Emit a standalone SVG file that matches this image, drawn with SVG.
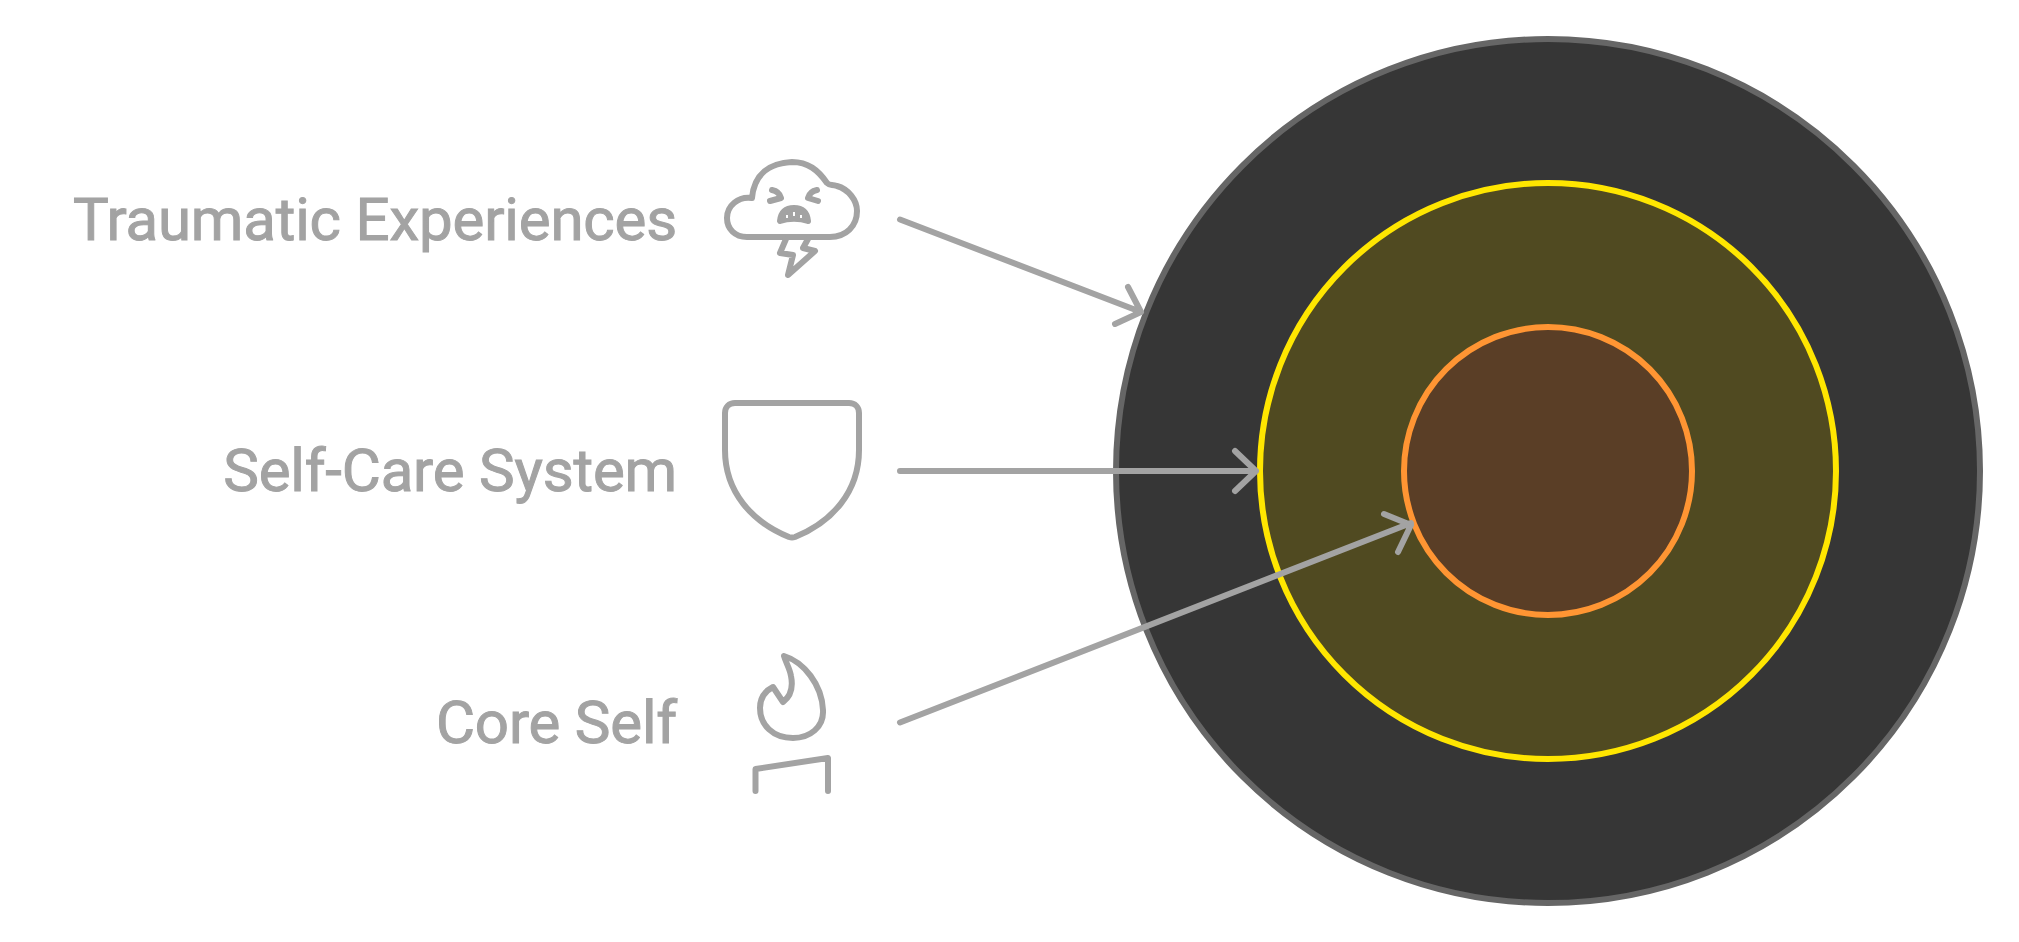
<svg xmlns="http://www.w3.org/2000/svg" width="2019" height="942" viewBox="0 0 2019 942">
<style>
.t{font-family:Roboto,"Liberation Sans",sans-serif;font-size:60px;letter-spacing:-.18px;fill:#a3a3a3;stroke:#a3a3a3;stroke-width:1;text-anchor:end}
.i,.c{fill:none;stroke:#a3a3a3;stroke-linecap:round;stroke-linejoin:round}
.i{stroke-width:6}
.c{stroke-width:6}
</style>
<rect width="2019" height="942" fill="#fff"/>
<g id="outer"><circle cx="1548" cy="471" r="432" fill="#363636" stroke="#666" stroke-width="6"/></g>
<g id="middle"><circle cx="1548" cy="471" r="288" fill="#504a21" stroke="#ffe600" stroke-width="6"/></g>
<g id="inner"><circle cx="1548" cy="471" r="144" fill="#5a3e26" stroke="#ff9533" stroke-width="6"/></g>
<g id="node-trauma">
<text class="t" x="677" y="240">Traumatic Experiences</text>
<path class="i" d="M752 198C754 174 770 163 792 162C808 162 818 170 827 183C830 186 832 184 837 186C848 189 857 200 857 211C857 226 846 237 830 237H747C735 237 727 229 727 218C727 206 738 196 752 198Z"/>
<path class="i" d="M772 190C777 191 780 194 781 198L770 201M817 190C812 191 809 194 808 198L818 201"/>
<path class="i" d="M780 221C781 212 786 208 794 208C802 208 807 212 808 221C800 218 788 218 780 221Z" style="fill:#a3a3a3"/>
<path d="M786 215h2v3h-2zM793 212h2v4h-2zM800 215h2v3h-2z" fill="#fff"/>
<path class="i" d="M786 239L780 253L793 255L788 275L815 251L803 248L808 239"/>
</g>
<g id="node-selfcare">
<text class="t" x="677" y="491">Self-Care System</text>
<path class="i" d="M735 403H849C855 403 859 407 859 413V450C859 492 832 522 795 537Q792 538 789 537C752 522 725 492 725 450V413C725 407 729 403 735 403Z"/>
</g>
<g id="node-core">
<text class="t" x="677" y="743">Core Self</text>
<path class="i" d="M784 656C804 662 822 685 823 710C824 727 810 738 793 738C773 738 760 725 760 708C760 698 765 691 773 687L783 702C791 696 793 686 791 676C790 669 786 663 784 656Z"/>
<path class="i" d="M755.500 791V769L828 758V791"/>
</g>
<g id="connectors">
<path class="c" d="M900 219.500L1141 312M1128 287L1141 312L1115 324"/>
<path class="c" d="M900 471H1256M1235 451L1256 471L1235 491"/>
<path class="c" d="M900 722.500L1411 523M1384 514L1411 525L1398 552"/>
</g>
</svg>
